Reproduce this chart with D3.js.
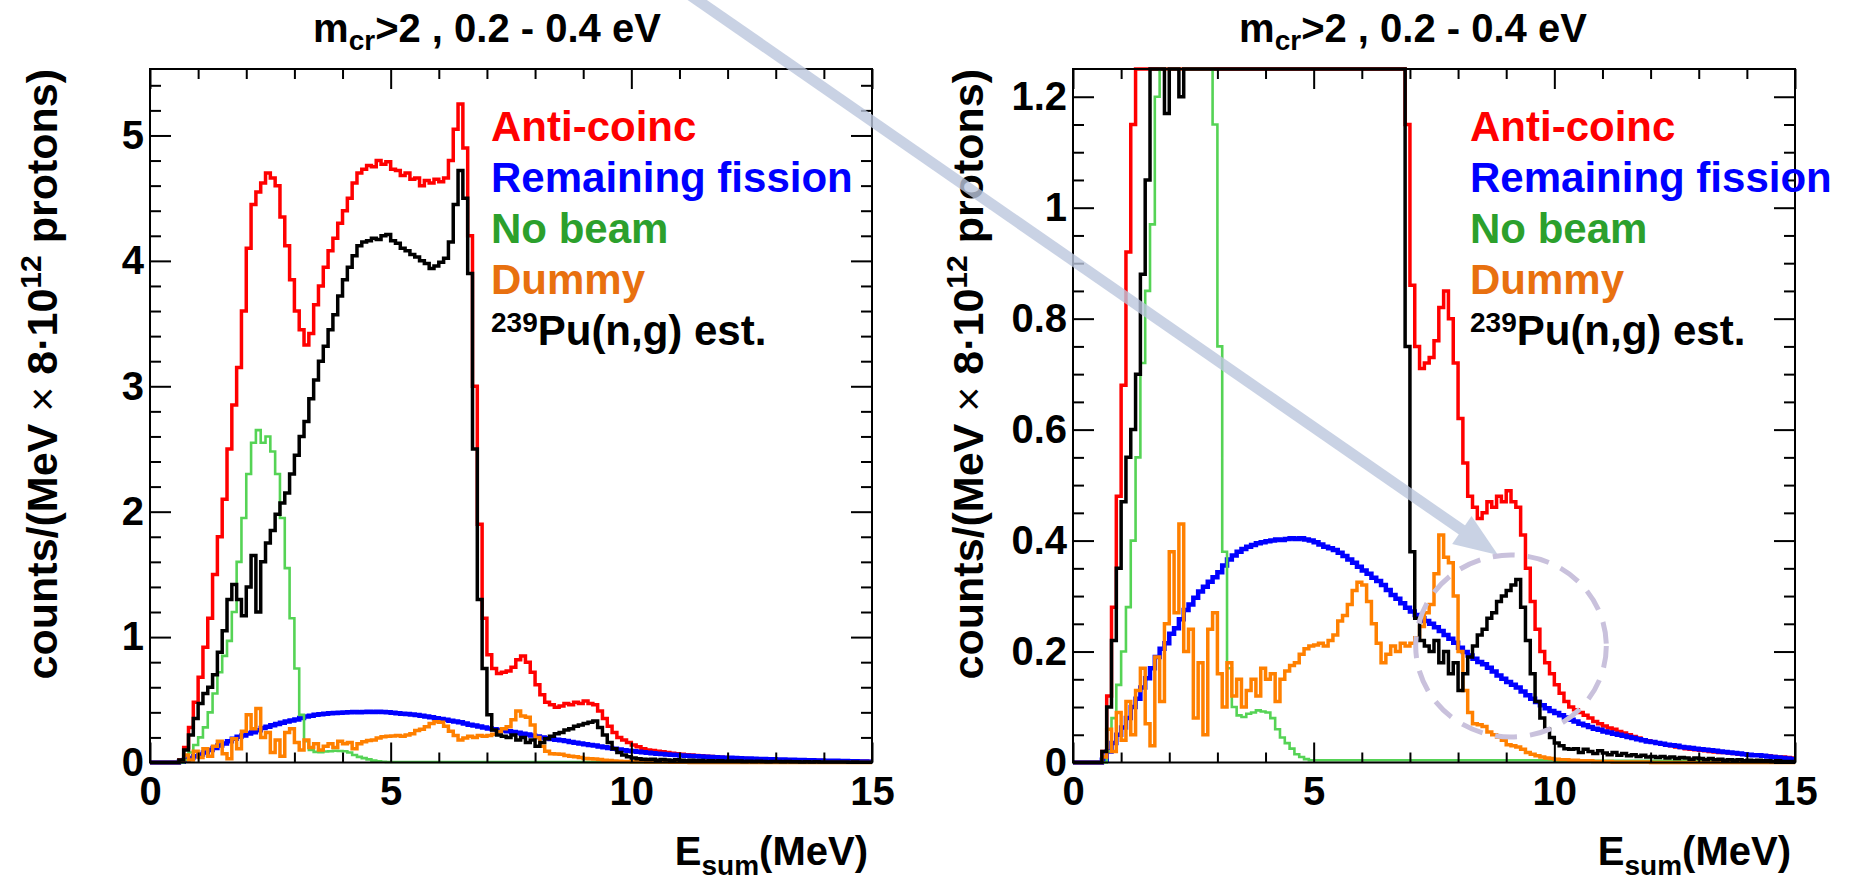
<!DOCTYPE html>
<html>
<head>
<meta charset="utf-8">
<script src="https://cdn.jsdelivr.net/npm/d3@7"></script>
<style>
  body { margin: 0; background: #fff; }
  svg { font-family: "Liberation Sans", Arial, Helvetica, sans-serif; font-weight: bold; }
</style>
</head>
<body>
<svg width="1852" height="882"></svg>
<script>
// histograms, 0.1 MeV bins starting at 0 MeV (150 bins up to 15 MeV)
var binWidth = 0.1;

var antiCoinc = [
  0, 0, 0, 0, 0, 0, 0.02, 0.12, 0.28, 0.48,
  0.68, 0.92, 1.15, 1.5, 1.8, 2.1, 2.5, 2.85, 3.15, 3.6,
  4.1, 4.45, 4.55, 4.62, 4.7, 4.66, 4.6, 4.35, 4.12, 3.85,
  3.6, 3.45, 3.33, 3.42, 3.65, 3.8, 3.95, 4.08, 4.18, 4.3,
  4.4, 4.5, 4.62, 4.7, 4.73, 4.76, 4.75, 4.8, 4.77, 4.79,
  4.73, 4.72, 4.68, 4.7, 4.65, 4.66, 4.6, 4.64, 4.62, 4.65,
  4.63, 4.66, 4.8, 5.05, 5.25, 4.9, 4.2, 3.0, 1.9, 1.15,
  0.86, 0.75, 0.71, 0.72, 0.73, 0.76, 0.82, 0.85, 0.8, 0.72,
  0.62, 0.54, 0.48, 0.46, 0.44, 0.45, 0.47, 0.46, 0.48, 0.47,
  0.49, 0.47, 0.46, 0.41, 0.35, 0.29, 0.24, 0.2, 0.18, 0.16,
  0.14, 0.125, 0.11, 0.1, 0.095, 0.09, 0.085, 0.08, 0.074, 0.07,
  0.066, 0.062, 0.06, 0.056, 0.053, 0.05, 0.047, 0.044, 0.041, 0.039,
  0.037, 0.035, 0.033, 0.031, 0.03, 0.028, 0.027, 0.025, 0.024, 0.023,
  0.022, 0.021, 0.02, 0.019, 0.018, 0.018, 0.017, 0.016, 0.015, 0.015,
  0.014, 0.013, 0.013, 0.012, 0.012, 0.011, 0.01, 0.01, 0.009, 0.008
];

var remainingFission = [
  0, 0, 0, 0, 0, 0, 0.005, 0.02, 0.035, 0.05,
  0.063, 0.08, 0.1, 0.115, 0.135, 0.152, 0.17, 0.19, 0.205, 0.215,
  0.232, 0.242, 0.258, 0.275, 0.285, 0.297, 0.308, 0.317, 0.326, 0.334,
  0.343, 0.355, 0.366, 0.373, 0.38, 0.385, 0.389, 0.392, 0.395, 0.397,
  0.399, 0.4, 0.402, 0.401, 0.403, 0.404, 0.403, 0.404, 0.402, 0.4,
  0.397, 0.393, 0.389, 0.386, 0.383, 0.378, 0.372, 0.366, 0.36, 0.353,
  0.346, 0.34, 0.333, 0.327, 0.32, 0.311, 0.302, 0.295, 0.287, 0.279,
  0.272, 0.266, 0.26, 0.255, 0.25, 0.244, 0.237, 0.23, 0.223, 0.216,
  0.207, 0.199, 0.193, 0.187, 0.181, 0.177, 0.171, 0.164, 0.157, 0.151,
  0.145, 0.14, 0.135, 0.128, 0.121, 0.115, 0.109, 0.103, 0.098, 0.093,
  0.089, 0.085, 0.081, 0.077, 0.074, 0.07, 0.067, 0.064, 0.061, 0.059,
  0.056, 0.054, 0.052, 0.05, 0.048, 0.046, 0.044, 0.042, 0.04, 0.038,
  0.037, 0.035, 0.034, 0.032, 0.031, 0.03, 0.028, 0.027, 0.026, 0.025,
  0.024, 0.023, 0.022, 0.021, 0.02, 0.019, 0.018, 0.017, 0.016, 0.015,
  0.014, 0.013, 0.013, 0.012, 0.011, 0.01, 0.009, 0.008, 0.007, 0.006
];

var noBeam = [
  0, 0, 0, 0, 0, 0, 0, 0.02, 0.08, 0.14,
  0.2, 0.28, 0.4, 0.55, 0.72, 0.85, 0.97, 1.2, 1.6, 1.95,
  2.3, 2.55, 2.65, 2.55, 2.6, 2.48, 2.3, 1.95, 1.55, 1.15,
  0.75, 0.38, 0.17, 0.1, 0.085, 0.082, 0.088, 0.09, 0.094, 0.092,
  0.09, 0.08, 0.06, 0.045, 0.035, 0.025, 0.015, 0.01, 0.006, 0.004,
  0.004, 0.004, 0.004, 0.004, 0.004, 0.004, 0.004, 0.004, 0.004, 0.004,
  0.004, 0.004, 0.004, 0.004, 0.004, 0.004, 0.004, 0.004, 0.004, 0.004,
  0.004, 0.004, 0.004, 0.004, 0.004, 0.004, 0.004, 0.004, 0.004, 0.004,
  0.004, 0.004, 0.004, 0.004, 0.004, 0.004, 0.004, 0.004, 0.004, 0.004,
  0.004, 0.004, 0.004, 0.004, 0.004, 0.004, 0.004, 0.004, 0.004, 0.004,
  0.003, 0.003, 0.003, 0.003, 0.003, 0.003, 0.003, 0.003, 0.003, 0.003,
  0.003, 0.003, 0.003, 0.003, 0.003, 0.003, 0.003, 0.003, 0.003, 0.003,
  0.003, 0.003, 0.003, 0.003, 0.003, 0.003, 0.003, 0.003, 0.003, 0.003,
  0.002, 0.002, 0.002, 0.002, 0.002, 0.002, 0.002, 0.002, 0.002, 0.002,
  0.002, 0.002, 0.002, 0.002, 0.002, 0.002, 0.002, 0.002, 0.002, 0.002
];

var dummy = [
  0, 0, 0, 0, 0, 0, 0.01, 0.06, 0.02, 0.09,
  0.04, 0.11, 0.05, 0.13, 0.17, 0.07, 0.03, 0.19, 0.11, 0.25,
  0.38, 0.27, 0.43, 0.2, 0.24, 0.08, 0.18, 0.05, 0.24, 0.27,
  0.16, 0.1, 0.18, 0.12, 0.15, 0.1, 0.13, 0.15, 0.12, 0.17,
  0.15, 0.16, 0.11, 0.15, 0.165, 0.175, 0.18, 0.195, 0.205, 0.21,
  0.212, 0.215, 0.21, 0.22, 0.23, 0.255, 0.265, 0.285, 0.31, 0.325,
  0.32, 0.29, 0.25, 0.215, 0.18, 0.195, 0.21, 0.2, 0.215, 0.21,
  0.215, 0.225, 0.245, 0.27, 0.285, 0.34, 0.41, 0.37, 0.36, 0.3,
  0.2, 0.13, 0.09, 0.07, 0.068, 0.065, 0.055, 0.05, 0.046, 0.04,
  0.032, 0.03, 0.028, 0.024, 0.018, 0.015, 0.012, 0.01, 0.008, 0.007,
  0.006, 0.005, 0.005, 0.004, 0.004, 0.003, 0.003, 0.003, 0.002, 0.002,
  0.002, 0.002, 0.001, 0.001, 0.001, 0.001, 0.001, 0.001, 0.001, 0.001,
  0, 0, 0, 0, 0, 0, 0, 0, 0, 0,
  0, 0, 0, 0, 0, 0, 0, 0, 0, 0,
  0, 0, 0, 0, 0, 0, 0, 0, 0, 0
];

var puCapture = [
  0, 0, 0, 0, 0, 0, 0.02, 0.1, 0.22, 0.35,
  0.47, 0.55, 0.6, 0.7, 0.88, 1.05, 1.3, 1.42, 1.3, 1.17,
  1.4, 1.65, 1.2, 1.6, 1.75, 1.85, 1.98, 2.07, 2.15, 2.3,
  2.45, 2.6, 2.72, 2.9, 3.05, 3.2, 3.32, 3.45, 3.57, 3.72,
  3.85, 3.95, 4.04, 4.12, 4.15, 4.16, 4.18, 4.17, 4.2, 4.21,
  4.16, 4.14, 4.1, 4.08, 4.05, 4.03, 4.0, 3.98, 3.94, 3.96,
  3.99, 4.02, 4.15, 4.45, 4.72, 4.5, 3.9, 2.5, 1.3, 0.75,
  0.38, 0.26, 0.22, 0.21, 0.2, 0.22, 0.18, 0.2, 0.16, 0.18,
  0.13, 0.16, 0.19, 0.21, 0.23, 0.24, 0.26, 0.27, 0.29, 0.3,
  0.31, 0.32, 0.33, 0.28, 0.22, 0.16, 0.11, 0.08, 0.06, 0.045,
  0.035, 0.03, 0.025, 0.024, 0.025, 0.018, 0.024, 0.02, 0.016, 0.021,
  0.017, 0.014, 0.018, 0.013, 0.016, 0.012, 0.014, 0.011, 0.013, 0.01,
  0.011, 0.009, 0.011, 0.008, 0.01, 0.007, 0.009, 0.008, 0.006, 0.008,
  0.007, 0.005, 0.007, 0.005, 0.006, 0.004, 0.005, 0.004, 0.005, 0.003,
  0.004, 0.003, 0.004, 0.003, 0.003, 0.002, 0.003, 0.002, 0.002, 0.002
];

var series = [
  { label: "Anti-coinc", values: antiCoinc, line: "#ff0000", text: "#ff0000", width: 3.5 },
  { label: "Remaining fission", values: remainingFission, line: "#0000ff", text: "#0000ff", width: 4.5 },
  { label: "No beam", values: noBeam, line: "#55d355", text: "#2ca02c", width: 2.6 },
  { label: "Dummy", values: dummy, line: "#ff8000", text: "#e8700f", width: 3.5 },
  { label: "Pu(n,g) est.", sup: "239", values: puCapture, line: "#000000", text: "#000000", width: 3.5 }
];

var xMajor = [0, 5, 10, 15];
var xMinor = [1, 2, 3, 4, 6, 7, 8, 9, 11, 12, 13, 14];

var panels = [
  { left: 150, right: 872, yMax: 5.53, yMajor: [0, 1, 2, 3, 4, 5], yMinorStep: 0.2, legendX: 491, off: 0 },
  { left: 1073, right: 1795, yMax: 1.25, yMajor: [0, 0.2, 0.4, 0.6, 0.8, 1, 1.2], yMinorStep: 0.05, legendX: 1470, off: 926 }
];

var frameTop = 69, frameBottom = 762.5;
var svg = d3.select("svg");
svg.append("rect").attr("width", 1852).attr("height", 882).attr("fill", "#fff");

function styleAxis(g) {
  g.select(".domain").remove();
  g.selectAll(".tick line").attr("stroke", "#000").attr("stroke-width", 2);
  g.attr("font-family", null).attr("font-size", 40).attr("font-weight", "bold");
  g.selectAll(".tick text").attr("fill", "#000");
}

function drawPanel(p) {
  let x = d3.scaleLinear().domain([0, 15]).range([p.left, p.right]);
  let y = d3.scaleLinear().domain([0, p.yMax]).range([frameBottom, frameTop]).clamp(true);
  p.x = x; p.y = y;

  let yMinor = [];
  for (let v = p.yMinorStep; v < p.yMax; v += p.yMinorStep) {
    let r = Math.round(v * 1000) / 1000;
    if (p.yMajor.indexOf(r) < 0) yMinor.push(r);
  }

  let plot = svg.append("g");

  // histograms drawn as steps
  let line = d3.line()
    .x(function(d) { return x(d[0]); })
    .y(function(d) { return y(d[1]); })
    .curve(d3.curveStepAfter);

  series.forEach(function(s) {
    let pts = s.values.map(function(v, i) { return [i * binWidth, v]; });
    pts.push([15, s.values[s.values.length - 1]]);
    plot.append("path")
      .attr("d", line(pts))
      .attr("fill", "none")
      .attr("stroke", s.line)
      .attr("stroke-width", s.width)
      .attr("stroke-linejoin", "miter");
  });

  // axes: ticks point inside the frame, on all four sides
  let fmt = function(d) { return String(+d.toFixed(1)); };
  plot.append("g").attr("transform", "translate(0," + frameBottom + ")")
    .call(d3.axisBottom(x).tickValues(xMajor).tickSize(-20).tickPadding(14).tickFormat(fmt)).call(styleAxis);
  plot.append("g").attr("transform", "translate(0," + frameBottom + ")")
    .call(d3.axisBottom(x).tickValues(xMinor).tickSize(-10).tickFormat("")).call(styleAxis);
  plot.append("g").attr("transform", "translate(0," + frameTop + ")")
    .call(d3.axisTop(x).tickValues(xMajor).tickSize(-20).tickFormat("")).call(styleAxis);
  plot.append("g").attr("transform", "translate(0," + frameTop + ")")
    .call(d3.axisTop(x).tickValues(xMinor).tickSize(-10).tickFormat("")).call(styleAxis);

  plot.append("g").attr("transform", "translate(" + p.left + ",0)")
    .call(d3.axisLeft(y).tickValues(p.yMajor).tickSize(-21).tickPadding(6).tickFormat(fmt)).call(styleAxis);
  plot.append("g").attr("transform", "translate(" + p.left + ",0)")
    .call(d3.axisLeft(y).tickValues(yMinor).tickSize(-11).tickFormat("")).call(styleAxis);
  plot.append("g").attr("transform", "translate(" + p.right + ",0)")
    .call(d3.axisRight(y).tickValues(p.yMajor).tickSize(-21).tickFormat("")).call(styleAxis);
  plot.append("g").attr("transform", "translate(" + p.right + ",0)")
    .call(d3.axisRight(y).tickValues(yMinor).tickSize(-11).tickFormat("")).call(styleAxis);

  plot.append("rect")
    .attr("x", p.left).attr("y", frameTop)
    .attr("width", p.right - p.left).attr("height", frameBottom - frameTop)
    .attr("fill", "none").attr("stroke", "#000").attr("stroke-width", 2);

  // title
  let t = svg.append("text")
    .attr("x", 487 + p.off).attr("y", 42)
    .attr("text-anchor", "middle").attr("font-size", 40);
  t.append("tspan").text("m");
  t.append("tspan").attr("font-size", 28).attr("dy", 8).text("cr");
  t.append("tspan").attr("dy", -8).text(">2 , 0.2 - 0.4 eV");

  // x title
  let xt = svg.append("text")
    .attr("x", p.right - 4).attr("y", 865)
    .attr("text-anchor", "end").attr("font-size", 40);
  xt.append("tspan").text("E");
  xt.append("tspan").attr("font-size", 28).attr("dy", 10).text("sum");
  xt.append("tspan").attr("dy", -10).text("(MeV)");

  // y title
  let yt = svg.append("text")
    .attr("transform", "translate(" + (57 + p.off) + "," + frameTop + ") rotate(-90)")
    .attr("text-anchor", "end").attr("font-size", 43);
  yt.append("tspan").text("counts/(MeV ");
  yt.append("tspan").attr("font-weight", "normal").text("\u00d7");
  yt.append("tspan").text(" 8\u00b710");
  yt.append("tspan").attr("font-size", 30).attr("dy", -16).text("12");
  yt.append("tspan").attr("dy", 16).text(" protons)");

  // legend (text only)
  series.forEach(function(s, i) {
    let lt = svg.append("text")
      .attr("x", p.legendX).attr("y", 141 + i * 51)
      .attr("font-size", 42).attr("fill", s.text);
    if (s.sup) {
      lt.append("tspan").attr("font-size", 28).attr("dy", -13).text(s.sup);
      lt.append("tspan").attr("dy", 13).text(s.label);
    } else {
      lt.text(s.label);
    }
  });
}

panels.forEach(drawPanel);

// annotation on the right panel: arrow pointing to a dashed circle
var rp = panels[1];
var arrowStart = [690, -5];
var arrowTip = [rp.x(8.83), rp.y(0.374)];
var ring = { e: 9.1, v: 0.21, re: 1.98, rv: 0.164 };

var dx = arrowTip[0] - arrowStart[0], dy = arrowTip[1] - arrowStart[1];
var len = Math.sqrt(dx * dx + dy * dy);
var ux = dx / len, uy = dy / len;
var headLen = 44, headHalf = 17;
var base = [arrowTip[0] - headLen * ux, arrowTip[1] - headLen * uy];

var ann = svg.append("g").attr("opacity", 0.8);
ann.append("line")
  .attr("x1", arrowStart[0]).attr("y1", arrowStart[1])
  .attr("x2", base[0] + 2 * ux).attr("y2", base[1] + 2 * uy)
  .attr("stroke", "#bcc7de").attr("stroke-width", 11);
ann.append("path")
  .attr("d", "M" + arrowTip[0] + "," + arrowTip[1] +
    "L" + (base[0] - headHalf * uy) + "," + (base[1] + headHalf * ux) +
    "L" + (base[0] + headHalf * uy) + "," + (base[1] - headHalf * ux) + "Z")
  .attr("fill", "#bcc7de");

svg.append("ellipse")
  .attr("cx", rp.x(ring.e)).attr("cy", rp.y(ring.v))
  .attr("rx", rp.x(ring.e + ring.re) - rp.x(ring.e))
  .attr("ry", rp.y(0) - rp.y(ring.rv))
  .attr("fill", "none")
  .attr("stroke", "#c9c1dc")
  .attr("stroke-width", 5)
  .attr("stroke-dasharray", "22,13");
</script>
</body>
</html>
